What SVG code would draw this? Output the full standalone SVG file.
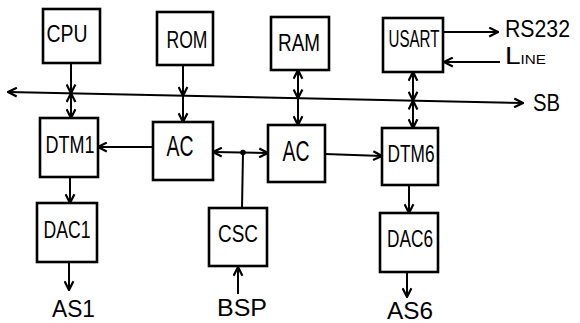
<svg xmlns="http://www.w3.org/2000/svg" width="580" height="323" viewBox="0 0 580 323">
<style>
.box{fill:#fff;stroke:#000;stroke-width:2.6}
.ln{fill:none;stroke:#000;stroke-width:2}
.t{font-family:"Liberation Sans",Arial,sans-serif;font-size:23px;fill:#000;text-anchor:middle;dominant-baseline:central}
.big{font-size:29px}
.lbl{font-family:"Liberation Sans",Arial,sans-serif;font-size:24px;fill:#000}
</style>
<defs>
<marker id="ah" markerUnits="userSpaceOnUse" viewBox="0 0 10 10" refX="9" refY="5" markerWidth="11" markerHeight="11" orient="auto-start-reverse">
<path d="M1,1 L9,5 L1,9" fill="none" stroke="#000" stroke-width="2"/>
</marker>
</defs>
<g id="connectors">
<line class="ln" x1="523" y1="103" x2="8" y2="92" marker-start="url(#ah)" marker-end="url(#ah)"/>
<line class="ln" x1="71" y1="63" x2="71" y2="93.3" marker-end="url(#ah)"/>
<line class="ln" x1="71" y1="93.3" x2="71" y2="118" marker-start="url(#ah)" marker-end="url(#ah)"/>
<line class="ln" x1="183" y1="65" x2="183" y2="95.7" marker-end="url(#ah)"/>
<line class="ln" x1="183" y1="95.7" x2="183" y2="122" marker-end="url(#ah)"/>
<line class="ln" x1="298" y1="70" x2="298" y2="98.2" marker-start="url(#ah)" marker-end="url(#ah)"/>
<line class="ln" x1="298" y1="98.2" x2="298" y2="125" marker-end="url(#ah)"/>
<line class="ln" x1="413" y1="72" x2="413" y2="100.6" marker-start="url(#ah)" marker-end="url(#ah)"/>
<line class="ln" x1="413" y1="100.6" x2="413" y2="128" marker-start="url(#ah)" marker-end="url(#ah)"/>
<line class="ln" x1="153" y1="147" x2="98" y2="147" marker-end="url(#ah)"/>
<line class="ln" x1="213" y1="152" x2="268" y2="153" marker-start="url(#ah)" marker-end="url(#ah)"/>
<circle cx="243" cy="152.5" r="2.8" fill="#000"/>
<line class="ln" x1="243" y1="152.5" x2="242" y2="208"/>
<line class="ln" x1="325" y1="154" x2="382" y2="156" marker-end="url(#ah)"/>
<line class="ln" x1="70" y1="177" x2="70" y2="203" marker-end="url(#ah)"/>
<line class="ln" x1="69" y1="262" x2="69" y2="290" marker-end="url(#ah)"/>
<line class="ln" x1="238" y1="294" x2="238" y2="267" marker-end="url(#ah)"/>
<line class="ln" x1="409" y1="185" x2="409" y2="213" marker-end="url(#ah)"/>
<line class="ln" x1="407" y1="272" x2="407" y2="297" marker-end="url(#ah)"/>
<line class="ln" x1="443" y1="32" x2="498" y2="32" marker-end="url(#ah)"/>
<line class="ln" x1="500" y1="62" x2="444" y2="62" marker-end="url(#ah)"/>
</g>
<g id="cpu"><rect class="box" x="43" y="9" width="57" height="54"/><text class="t" x="67" y="34" textLength="41" lengthAdjust="spacingAndGlyphs">CPU</text></g>
<g id="rom"><rect class="box" x="157" y="12" width="56" height="53"/><text class="t" x="187" y="40" textLength="41" lengthAdjust="spacingAndGlyphs">ROM</text></g>
<g id="ram"><rect class="box" x="271" y="17" width="58" height="53"/><text class="t" x="299" y="43" textLength="42" lengthAdjust="spacingAndGlyphs">RAM</text></g>
<g id="usart"><rect class="box" x="383" y="18" width="60" height="54"/><text class="t" x="414" y="39" textLength="51" lengthAdjust="spacingAndGlyphs">USART</text></g>
<g id="dtm1"><rect class="box" x="40" y="118" width="58" height="59"/><text class="t" x="70" y="145" textLength="49" lengthAdjust="spacingAndGlyphs">DTM1</text></g>
<g id="ac1"><rect class="box" x="153" y="122" width="60" height="58"/><text class="t big" x="180" y="146" textLength="27" lengthAdjust="spacingAndGlyphs">AC</text></g>
<g id="ac2"><rect class="box" x="268" y="125" width="57" height="57"/><text class="t big" x="296" y="151" textLength="27" lengthAdjust="spacingAndGlyphs">AC</text></g>
<g id="dtm6"><rect class="box" x="382" y="128" width="56" height="57"/><text class="t" x="411" y="154" textLength="47" lengthAdjust="spacingAndGlyphs">DTM6</text></g>
<g id="dac1"><rect class="box" x="37" y="203" width="60" height="59"/><text class="t" x="67" y="230" textLength="47" lengthAdjust="spacingAndGlyphs">DAC1</text></g>
<g id="csc"><rect class="box" x="209" y="208" width="58" height="58"/><text class="t" x="238" y="234" textLength="40" lengthAdjust="spacingAndGlyphs">CSC</text></g>
<g id="dac6"><rect class="box" x="380" y="213" width="58" height="59"/><text class="t" x="410" y="239" textLength="46" lengthAdjust="spacingAndGlyphs">DAC6</text></g>
<g id="labels">
<text class="lbl" x="52" y="317" textLength="43" lengthAdjust="spacingAndGlyphs">AS1</text>
<text class="lbl" x="217" y="316" textLength="50" lengthAdjust="spacingAndGlyphs">BSP</text>
<text class="lbl" x="387" y="319" textLength="46" lengthAdjust="spacingAndGlyphs">AS6</text>
<text class="lbl" x="533" y="111" textLength="27" lengthAdjust="spacingAndGlyphs">SB</text>
<text class="lbl" x="505" y="37" font-size="20" textLength="65" lengthAdjust="spacingAndGlyphs">RS232</text>
<text class="lbl" x="505" y="64" font-size="17" textLength="41" lengthAdjust="spacingAndGlyphs">L<tspan font-size="13">INE</tspan></text>
</g>
</svg>
